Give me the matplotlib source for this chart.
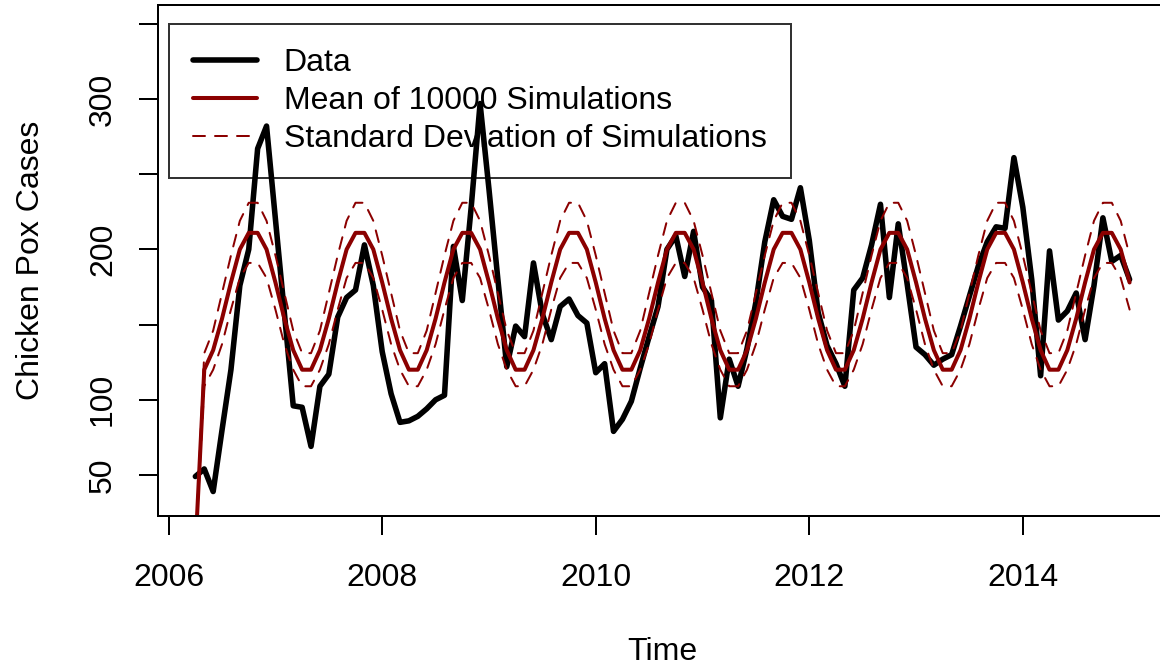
import numpy as np
import matplotlib.pyplot as plt

plt.rcParams['font.family'] = ['Liberation Sans', 'DejaVu Sans']

# Monthly chicken pox cases, starting April 2006
start_year = 2006.25
cases = [49, 54, 39, 80, 120, 176, 200, 267, 282, 220,
         158, 96, 95, 69, 109, 117, 155, 168, 173, 203,
         176, 132, 104, 85, 86, 89, 94, 100, 103, 202,
         166, 228, 297, 240, 180, 122, 149, 142, 191, 157,
         140, 162, 167, 156, 151, 118, 124, 79, 87, 99,
         121, 142, 162, 200, 209, 182, 212, 175, 166, 88,
         127, 109, 134, 165, 205, 233, 222, 220, 241, 206,
         158, 136, 124, 109, 173, 181, 203, 230, 168, 217,
         177, 135, 130, 123, 127, 130, 149, 169, 189, 205,
         215, 214, 261, 228, 180, 116, 199, 153, 159, 171,
         140, 176, 221, 192, 196, 180]

# simulation summary by calendar month (Jan..Dec)
sim_mean_by_month = [178, 154, 133, 120, 120, 133, 154, 178, 200, 211, 211, 200]
sim_sd_by_month = [18, 17, 13, 11, 11, 13, 17, 18, 19, 20, 20, 19]
first_sim_mean = 0
first_sim_sd = 0

months = np.arange(len(cases))
time = start_year + months / 12
cal_month = (3 + months) % 12
sim_mean = np.array(sim_mean_by_month, dtype=float)[cal_month]
sim_sd = np.array(sim_sd_by_month, dtype=float)[cal_month]
sim_mean[0] = first_sim_mean
sim_sd[0] = first_sim_sd

fs = 23
lw_box = 1.44

fig = plt.figure(figsize=(11.6, 6.68), dpi=100)
ax = fig.add_axes([0.1362, 0.2275, 0.8698, 0.765])

ax.plot(time, cases, color="black", lw=4, solid_capstyle="round",
        solid_joinstyle="round", label="Data")
ax.plot(time, sim_mean, color="darkred", lw=2.9, solid_capstyle="round",
        solid_joinstyle="round", label="Mean of 10000 Simulations")
dash = (0, (6, 5))
ax.plot(time, sim_mean + sim_sd, color="darkred", lw=1.44, ls=dash,
        dash_capstyle="round", label="Standard Deviation of Simulations")
ax.plot(time, sim_mean - sim_sd, color="darkred", lw=1.44, ls=dash,
        dash_capstyle="round")

ax.set_xlim(2005.9, 2015.35)
ax.set_ylim(22.7, 362.5)

ax.set_xticks([2006, 2008, 2010, 2012, 2014])
ax.set_xticklabels(["2006", "2008", "2010", "2012", "2014"], fontsize=fs)
ax.set_yticks([50, 100, 150, 200, 250, 300, 350])
ax.set_yticklabels(["50", "100", "", "200", "", "300", ""], fontsize=fs,
                   rotation=90, va="center")
ax.tick_params(axis="both", direction="out", length=13.8, width=lw_box)
ax.tick_params(axis="x", pad=20)
ax.tick_params(axis="y", pad=15)
for sp in ax.spines.values():
    sp.set_linewidth(lw_box)

ax.set_xlabel("Time", fontsize=fs, labelpad=32)
ax.set_ylabel("Chicken Pox Cases", fontsize=fs, labelpad=30)

# R legends have no fill, so the lines show through
leg = ax.legend(loc="upper left", bbox_to_anchor=(2006, 350),
                bbox_transform=ax.transData, borderaxespad=0,
                fancybox=False, edgecolor="black", facecolor="none",
                fontsize=fs, handlelength=2.0, handletextpad=0.85,
                labelspacing=0.25, borderpad=0.75)
leg.get_frame().set_linewidth(lw_box)
leg.set_zorder(1)

fig.savefig("out.png", dpi=100)
